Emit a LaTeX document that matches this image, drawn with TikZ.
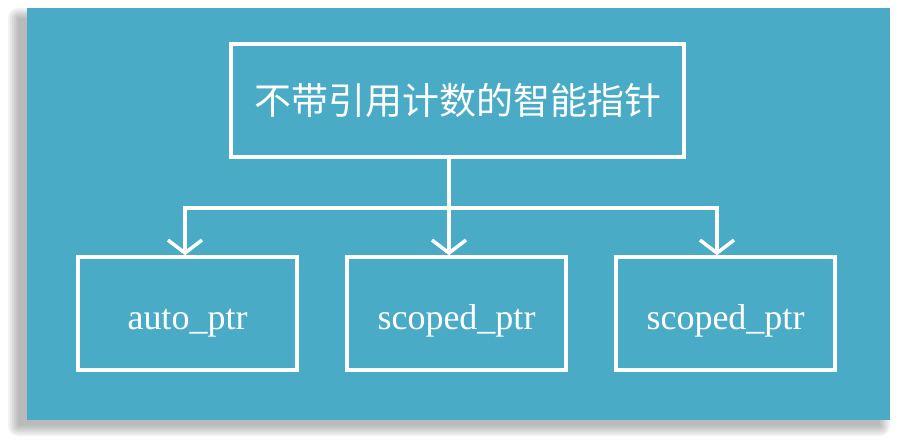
\documentclass[tikz,border=0pt]{standalone}
\usepackage{fontspec}
\setmainfont{Liberation Serif}
\newfontfamily\cjk{Noto Sans CJK SC}
\usetikzlibrary{arrows.meta}
\definecolor{fondo}{RGB}{74,171,198}
\begin{document}
\begin{tikzpicture}[x=1pt, y=-1pt,
    caja/.style={draw=white, line width=3.5pt, minimum height=113pt, inner sep=0pt},
    enlace/.style={draw=white, line width=3.5pt},
    punta/.style={-{Straight Barb[length=13pt, width=34pt, line width=3.5pt]}}]
    % Marco de la imagen
    \useasboundingbox (0,0) rectangle (900,446);
    % Sombra difusa del panel (desplazada a la izquierda y abajo)
    \foreach \d in {0,2,...,10}
        \fill[black, opacity=0.05, rounded corners=\d pt] ({18-\d},{18-\d}) rectangle ({880+\d},{426+\d});
    % Panel de fondo
    \fill[fondo] (27,8) rectangle (890,420);
    % Caja superior
    \node[caja, minimum width=453pt, text=white, font=\cjk\fontsize{37}{40}\selectfont,
          text height=31pt, text depth=3pt] (raiz) at (457.5,100.5) {不带引用计数的智能指针};
    % Cajas inferiores
    \node[caja, minimum width=219pt, text=white, font=\fontsize{36}{40}\selectfont,
          text height=36pt, text depth=3pt] (auto) at (187.5,313.5) {auto\_ptr};
    \node[caja, minimum width=219pt, text=white, font=\fontsize{36}{40}\selectfont,
          text height=36pt, text depth=3pt] (scopedA) at (456.5,313.5) {scoped\_ptr};
    \node[caja, minimum width=219pt, text=white, font=\fontsize{36}{40}\selectfont,
          text height=36pt, text depth=3pt] (scopedB) at (725.5,313.5) {scoped\_ptr};
    % Punto de bifurcacion
    \coordinate (rama) at (449,208);
    % Conectores
    \draw[enlace] ([xshift=-8.5pt]raiz.south) -- (rama);
    \draw[enlace, punta] (rama) -| ([xshift=-2.5pt]auto.north);
    \draw[enlace, punta] (rama) -- ([xshift=-7.5pt]scopedA.north);
    \draw[enlace, punta] (rama) -| ([xshift=-8.5pt]scopedB.north);
\end{tikzpicture}
\end{document}
